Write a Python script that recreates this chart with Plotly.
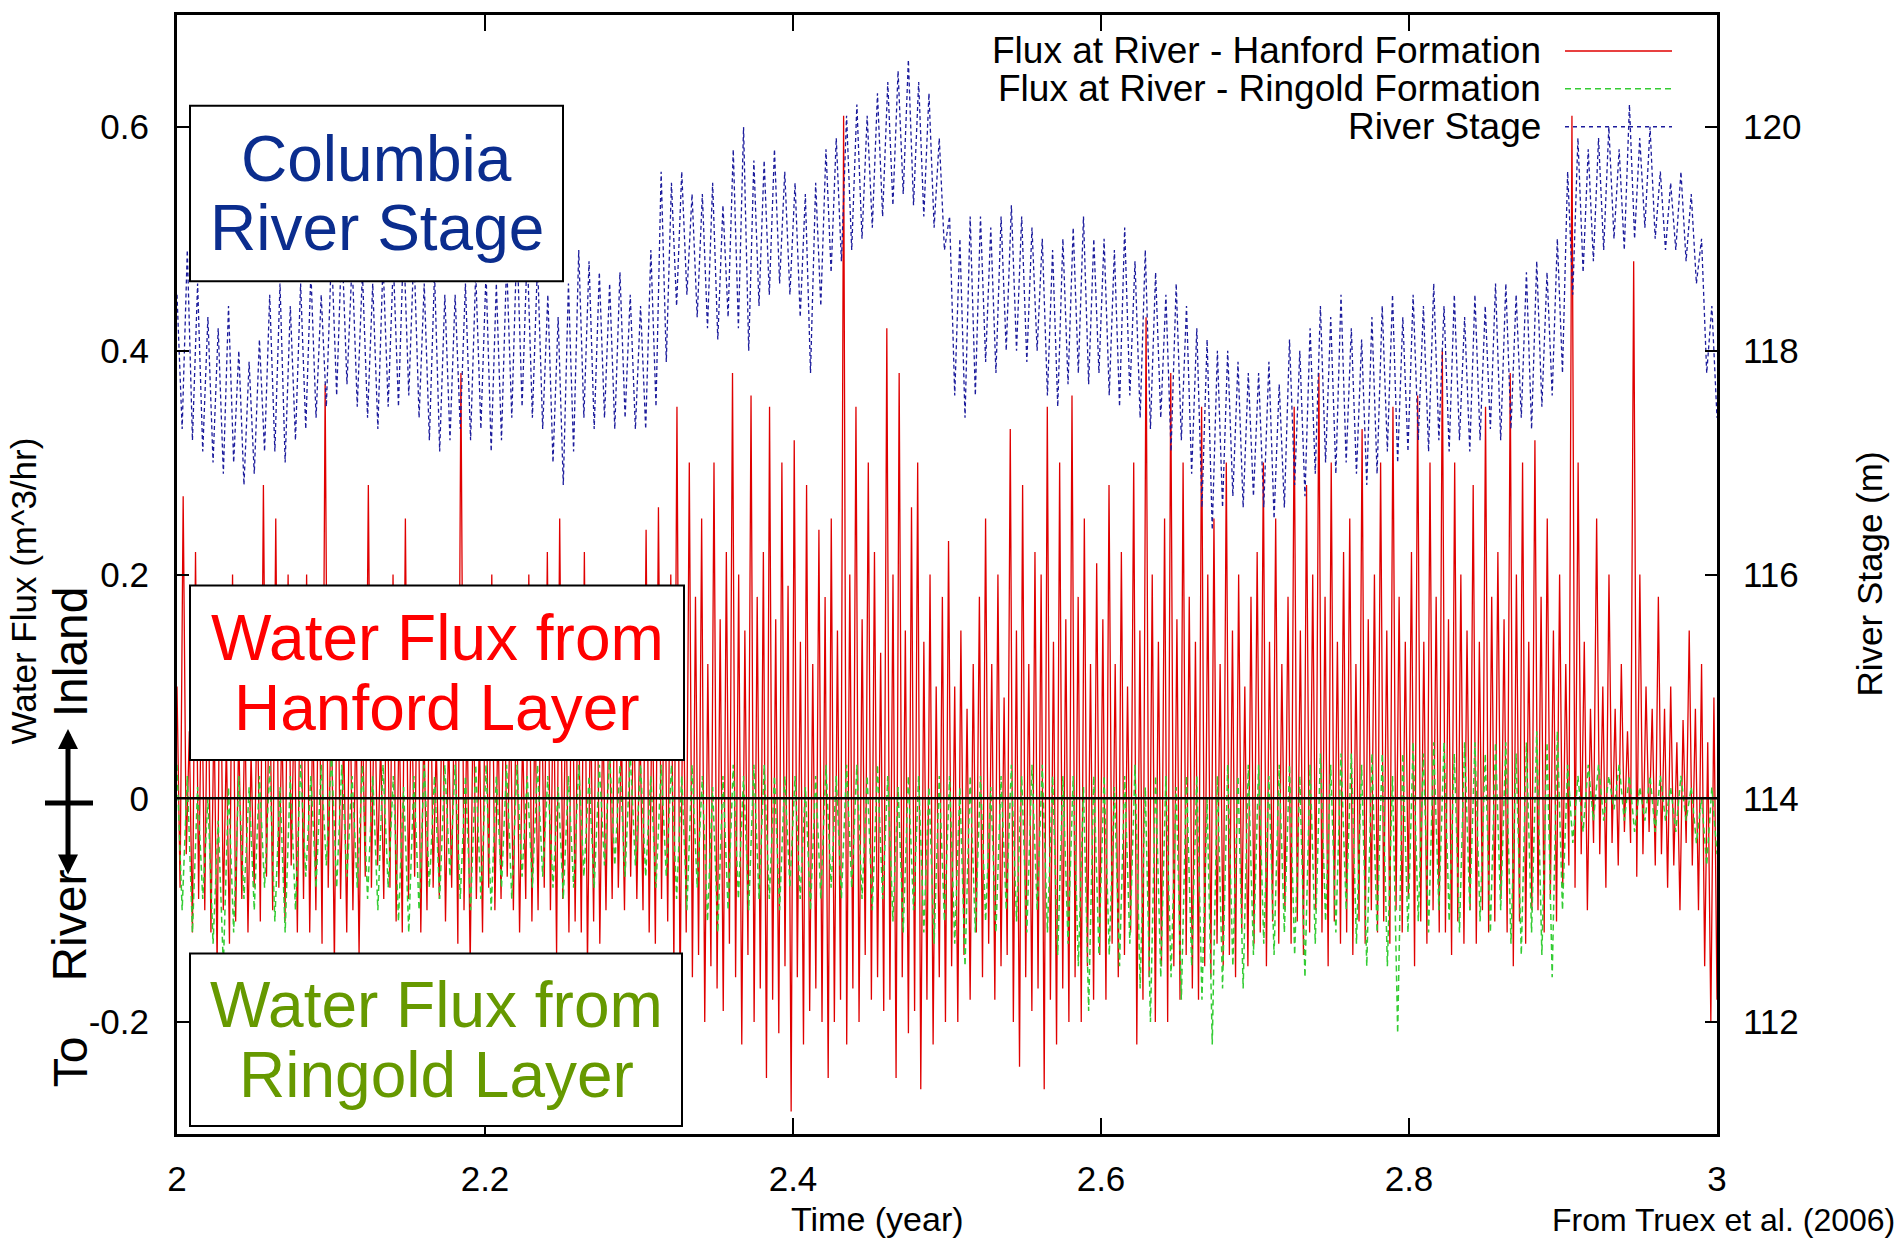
import numpy as np
import plotly.graph_objects as go

# ---------------- data ----------------
time_range = [2.0, 3.0]

# River stage (m), alternating daily highs / lows
river_stage_m = [
    118.5, 117.3, 118.9, 117.2, 118.6, 117.1,
    118.3, 117.0, 118.2, 116.9, 118.4, 117.0,
    118.0, 116.8, 117.9, 116.9, 118.1, 117.1,
    118.5, 117.1, 118.6, 117.0, 118.4, 117.2,
    118.6, 117.3, 118.7, 117.4, 118.5, 117.5,
    118.9, 117.6, 119.0, 117.7, 118.8, 117.5,
    118.7, 117.4, 118.6, 117.3, 118.8, 117.5,
    118.8, 117.5, 119.0, 117.6, 118.9, 117.4,
    118.6, 117.2, 118.7, 117.1, 118.5, 117.2,
    118.5, 117.3, 118.6, 117.2, 118.7, 117.3,
    118.7, 117.1, 118.6, 117.2, 118.8, 117.4,
    119.0, 117.5, 118.9, 117.4, 118.8, 117.3,
    118.5, 117.0, 118.3, 116.8, 118.6, 117.1,
    118.9, 117.4, 118.8, 117.3, 118.7, 117.4,
    118.6, 117.3, 118.7, 117.4, 118.5, 117.3,
    118.4, 117.3, 118.9, 117.5, 119.6, 117.9,
    119.5, 118.4, 119.6, 118.5, 119.4, 118.3,
    119.4, 118.2, 119.5, 118.1, 119.3, 118.3,
    119.8, 118.2, 120.0, 118.0, 119.7, 118.4,
    119.7, 118.5, 119.8, 118.6, 119.6, 118.5,
    119.5, 118.3, 119.4, 117.8, 119.5, 118.4,
    119.8, 118.7, 119.9, 118.8, 120.1, 118.9,
    120.2, 119.0, 120.1, 119.1, 120.3, 119.2,
    120.4, 119.3, 120.5, 119.4, 120.6, 119.3,
    120.4, 119.2, 120.3, 119.1, 119.9, 118.9,
    119.2, 117.6, 119.0, 117.4, 119.2, 117.6,
    119.2, 117.9, 119.1, 117.8, 119.2, 118.0,
    119.3, 118.0, 119.2, 117.9, 119.1, 118.0,
    119.0, 117.6, 118.9, 117.5, 119.0, 117.7,
    119.1, 117.8, 119.2, 117.7, 119.0, 117.8,
    119.0, 117.6, 118.9, 117.5, 119.1, 117.6,
    118.8, 117.4, 118.9, 117.3, 118.7, 117.4,
    118.5, 117.1, 118.6, 117.2, 118.4, 116.9,
    118.2, 116.6, 118.1, 116.4, 118.0, 116.6,
    118.0, 116.7, 117.9, 116.6, 117.8, 116.7,
    117.8, 116.6, 117.9, 116.5, 117.7, 116.6,
    118.1, 116.8, 118.0, 116.7, 118.2, 116.9,
    118.4, 117.0, 118.3, 116.9, 118.5, 117.0,
    118.2, 116.9, 118.1, 116.8, 118.3, 116.9,
    118.4, 117.1, 118.5, 117.0, 118.3, 117.1,
    118.5, 117.2, 118.4, 117.1, 118.6, 117.2,
    118.4, 117.1, 118.5, 117.2, 118.3, 117.1,
    118.5, 117.2, 118.4, 117.3, 118.6, 117.2,
    118.6, 117.3, 118.5, 117.4, 118.7, 117.3,
    118.8, 117.5, 118.7, 117.6, 119.0, 117.8,
    119.6, 118.5, 119.9, 118.7, 119.8, 118.8,
    119.9, 118.9, 120.0, 119.0, 119.8, 118.9,
    120.2, 119.0, 119.9, 119.1, 120.0, 119.0,
    119.6, 118.9, 119.5, 118.9, 119.6, 118.8,
    119.4, 118.6, 119.0, 117.8, 118.4, 117.4,
]

# Flux at river - Hanford formation (m^3/hr)
hanford_flux = [
    0.10, -0.08, 0.27, -0.05, 0.06, -0.12, 0.22, -0.09, 0.12, -0.10,
    0.15, -0.12, 0.08, -0.15, 0.18, -0.10, 0.05, -0.13, 0.20, -0.11,
    0.06, -0.09, 0.08, -0.12, 0.04, -0.08, 0.10, -0.11, 0.28, -0.07,
    0.12, -0.10, 0.25, -0.08, 0.07, -0.11, 0.20, -0.06, 0.09, -0.12,
    0.14, -0.09, 0.20, -0.12, 0.08, -0.10, 0.16, -0.13, 0.37, -0.08,
    0.10, -0.15, 0.17, -0.09, 0.06, -0.12, 0.12, -0.10, 0.08, -0.14,
    0.09, -0.07, 0.28, -0.08, 0.11, -0.06, 0.05, -0.09, 0.14, -0.08,
    0.20, -0.11, 0.08, -0.12, 0.25, -0.09, 0.10, -0.07, 0.16, -0.12,
    0.07, -0.10, 0.17, -0.08, 0.05, -0.09, 0.12, -0.11, 0.06, -0.08,
    0.12, -0.13, 0.38, -0.10, 0.08, -0.15, 0.10, -0.09, 0.06, -0.12,
    0.15, -0.08, 0.20, -0.10, 0.07, -0.09, 0.13, -0.07, 0.09, -0.10,
    0.11, -0.12, 0.06, -0.09, 0.20, -0.11, 0.08, -0.10, 0.14, -0.08,
    0.22, -0.10, 0.12, -0.14, 0.25, -0.09, 0.10, -0.12, 0.18, -0.11,
    0.13, -0.12, 0.22, -0.15, 0.09, -0.11, 0.17, -0.13, 0.08, -0.10,
    0.10, -0.09, 0.15, -0.08, 0.06, -0.10, 0.12, -0.07, 0.09, -0.09,
    0.07, -0.10, 0.24, -0.12, 0.11, -0.13, 0.26, -0.09, 0.15, -0.11,
    0.20, -0.15, 0.35, -0.18, 0.14, -0.12, 0.30, -0.16, 0.18, -0.14,
    0.25, -0.20, 0.12, -0.15, 0.30, -0.17, 0.16, -0.19, 0.22, -0.13,
    0.38, -0.16, 0.20, -0.22, 0.15, -0.14, 0.36, -0.20, 0.18, -0.17,
    0.22, -0.25, 0.35, -0.18, 0.16, -0.21, 0.30, -0.15, 0.19, -0.28,
    0.32, -0.16, 0.14, -0.22, 0.28, -0.19, 0.12, -0.17, 0.24, -0.20,
    0.18, -0.25, 0.25, -0.20, 0.15, -0.18, 0.61, -0.22, 0.20, -0.17,
    0.35, -0.20, 0.16, -0.14, 0.30, -0.18, 0.22, -0.16, 0.13, -0.19,
    0.42, -0.18, 0.20, -0.25, 0.38, -0.16, 0.15, -0.21, 0.26, -0.19,
    0.30, -0.26, 0.14, -0.18, 0.20, -0.22, 0.10, -0.16, 0.18, -0.20,
    0.23, -0.15, 0.10, -0.20, 0.15, -0.14, 0.08, -0.18, 0.12, -0.12,
    0.18, -0.16, 0.25, -0.13, 0.12, -0.18, 0.20, -0.15, 0.09, -0.14,
    0.33, -0.20, 0.15, -0.24, 0.28, -0.16, 0.12, -0.19, 0.22, -0.17,
    0.20, -0.26, 0.35, -0.18, 0.14, -0.22, 0.30, -0.17, 0.16, -0.20,
    0.36, -0.16, 0.18, -0.20, 0.25, -0.15, 0.12, -0.18, 0.21, -0.14,
    0.16, -0.18, 0.28, -0.13, 0.12, -0.16, 0.22, -0.14, 0.10, -0.12,
    0.30, -0.22, 0.15, -0.18, 0.43, -0.16, 0.20, -0.20, 0.14, -0.15,
    0.25, -0.20, 0.38, -0.15, 0.16, -0.18, 0.30, -0.14, 0.18, -0.17,
    0.14, -0.18, 0.35, -0.15, 0.20, -0.16, 0.25, -0.13, 0.12, -0.15,
    0.30, -0.14, 0.15, -0.16, 0.20, -0.12, 0.10, -0.15, 0.18, -0.13,
    0.22, -0.12, 0.30, -0.15, 0.14, -0.11, 0.25, -0.13, 0.12, -0.10,
    0.18, -0.13, 0.35, -0.11, 0.15, -0.14, 0.28, -0.12, 0.20, -0.10,
    0.38, -0.12, 0.18, -0.15, 0.30, -0.11, 0.14, -0.13, 0.22, -0.12,
    0.25, -0.14, 0.12, -0.11, 0.33, -0.13, 0.16, -0.10, 0.20, -0.12,
    0.30, -0.11, 0.15, -0.13, 0.35, -0.10, 0.18, -0.12, 0.14, -0.09,
    0.22, -0.15, 0.36, -0.11, 0.14, -0.13, 0.30, -0.10, 0.18, -0.12,
    0.40, -0.12, 0.16, -0.14, 0.30, -0.11, 0.20, -0.13, 0.15, -0.10,
    0.28, -0.13, 0.14, -0.10, 0.35, -0.12, 0.18, -0.11, 0.22, -0.09,
    0.16, -0.12, 0.38, -0.15, 0.20, -0.11, 0.30, -0.13, 0.14, -0.10,
    0.32, -0.10, 0.18, -0.12, 0.25, -0.09, 0.15, -0.11, 0.20, -0.08,
    0.12, -0.06, 0.61, -0.08, 0.30, -0.05, 0.14, -0.10, 0.08, -0.04,
    0.25, -0.05, 0.10, -0.08, 0.20, -0.04, 0.08, -0.06, 0.12, -0.03,
    0.06, -0.04, 0.48, -0.07, 0.20, -0.05, 0.10, -0.03, 0.08, -0.06,
    0.18, -0.05, 0.08, -0.08, 0.10, -0.06, 0.05, -0.10, 0.07, -0.04,
    0.15, -0.06, 0.08, -0.10, 0.12, -0.15, 0.05, -0.20, 0.09, -0.18,
]

# Flux at river - Ringold formation (m^3/hr)
ringold_flux = [
    0.03, -0.10, 0.02, -0.12, 0.01, -0.09,
    0.00, -0.13, -0.02, -0.15, 0.01, -0.12,
    0.02, -0.09, 0.01, -0.10, 0.02, -0.08,
    0.03, -0.11, 0.01, -0.12, 0.02, -0.10,
    0.03, -0.07, 0.02, -0.08, 0.03, -0.06,
    0.04, -0.08, 0.03, -0.07, 0.02, -0.08,
    0.03, -0.09, 0.02, -0.10, 0.03, -0.08,
    0.02, -0.11, 0.01, -0.12, 0.02, -0.10,
    0.03, -0.08, 0.02, -0.09, 0.03, -0.07,
    0.03, -0.09, 0.02, -0.10, 0.03, -0.09,
    0.03, -0.10, 0.02, -0.08, 0.03, -0.09,
    0.03, -0.07, 0.02, -0.08, 0.03, -0.07,
    0.02, -0.08, 0.01, -0.09, 0.02, -0.08,
    0.03, -0.07, 0.02, -0.08, 0.03, -0.06,
    0.04, -0.06, 0.03, -0.07, 0.04, -0.06,
    0.03, -0.07, 0.02, -0.08, 0.03, -0.07,
    0.03, -0.09, 0.02, -0.10, 0.03, -0.08,
    0.02, -0.11, 0.01, -0.12, 0.02, -0.10,
    0.03, -0.09, 0.02, -0.10, 0.03, -0.09,
    0.03, -0.09, 0.02, -0.10, 0.02, -0.08,
    0.02, -0.09, 0.01, -0.10, 0.02, -0.09,
    0.03, -0.08, 0.02, -0.09, 0.03, -0.08,
    0.03, -0.09, 0.02, -0.10, 0.03, -0.09,
    0.02, -0.11, 0.01, -0.12, 0.02, -0.10,
    0.02, -0.12, 0.01, -0.13, 0.02, -0.11,
    0.02, -0.13, 0.01, -0.15, 0.02, -0.12,
    0.02, -0.11, 0.01, -0.12, 0.02, -0.10,
    0.03, -0.11, 0.02, -0.12, 0.03, -0.10,
    0.03, -0.12, 0.02, -0.14, 0.02, -0.13,
    0.02, -0.15, 0.01, -0.19, 0.02, -0.14,
    0.02, -0.14, 0.01, -0.15, 0.02, -0.13,
    0.03, -0.17, 0.01, -0.20, 0.02, -0.16,
    0.02, -0.16, 0.01, -0.18, 0.02, -0.15,
    0.02, -0.18, 0.00, -0.22, 0.02, -0.17,
    0.03, -0.15, 0.02, -0.17, 0.03, -0.14,
    0.03, -0.13, 0.02, -0.14, 0.03, -0.12,
    0.03, -0.14, 0.02, -0.16, 0.03, -0.13,
    0.04, -0.11, 0.03, -0.12, 0.04, -0.10,
    0.04, -0.13, 0.03, -0.15, 0.04, -0.12,
    0.04, -0.15, 0.02, -0.21, 0.04, -0.12,
    0.05, -0.11, 0.04, -0.12, 0.05, -0.10,
    0.05, -0.11, 0.04, -0.12, 0.05, -0.10,
    0.05, -0.11, 0.04, -0.12, 0.05, -0.10,
    0.05, -0.13, 0.04, -0.14, 0.05, -0.12,
    0.06, -0.14, 0.05, -0.16, 0.06, -0.10,
    0.03, -0.04, 0.02, -0.03, 0.03, -0.02,
    0.03, -0.02, 0.02, -0.01, 0.03, -0.02,
    0.02, -0.03, 0.01, -0.02, 0.02, -0.03,
    0.02, -0.02, 0.01, -0.03, 0.02, -0.02,
    0.01, -0.04, 0.00, -0.06, 0.01, -0.05,
]

x_tickvals = [2.0, 2.2, 2.4, 2.6, 2.8, 3.0]
x_ticktext = ["2", "2.2", "2.4", "2.6", "2.8", "3"]
y_tickvals = [-0.2, 0.0, 0.2, 0.4, 0.6]
y_ticktext = ["-0.2", "0", "0.2", "0.4", "0.6"]
y2_tickvals = [112, 114, 116, 118, 120]
y2_ticktext = ["112", "114", "116", "118", "120"]

legend_names = ["Flux at River - Hanford Formation",
                "Flux at River - Ringold Formation",
                "River Stage"]

# ---------------- figure ----------------
W, H = 1899, 1247
L, R, T, B = 177, 1717, 12, 1134
FONT = "Liberation Sans, Arial, Helvetica, sans-serif"

RED = "#e00000"
GREEN = "#33cc33"
BLUE = "#1c1c9c"


def px(xp):
    return (xp - L) / (R - L)


def py(yp):
    return (B - yp) / (B - T)


t_h = np.linspace(time_range[0], time_range[1], len(hanford_flux))
t_r = np.linspace(time_range[0], time_range[1], len(ringold_flux))
t_s = np.linspace(time_range[0], time_range[1], len(river_stage_m))

fig = go.Figure()
fig.add_trace(go.Scatter(x=t_h, y=hanford_flux, mode="lines", name=legend_names[0],
                         line=dict(color=RED, width=1.3)))
fig.add_trace(go.Scatter(x=t_r, y=ringold_flux, mode="lines", name=legend_names[1],
                         line=dict(color=GREEN, width=1.5, dash="6px,4px")))
fig.add_trace(go.Scatter(x=t_s, y=river_stage_m, mode="lines", name=legend_names[2],
                         yaxis="y2", line=dict(color=BLUE, width=1.3, dash="4px,3px")))

shapes = []
annotations = []

# zero line
shapes.append(dict(type="line", xref="paper", yref="y", x0=0, x1=1, y0=0, y1=0,
                   line=dict(color="black", width=2.5), layer="above"))

# text boxes
boxes = [
    (190, 103, 563, 279, ["Columbia", "River Stage"], "#0b2d8e"),
    (190, 584, 684, 759, ["Water Flux from", "Hanford Layer"], "#ff0000"),
    (190, 953, 682, 1126, ["Water Flux from", "Ringold Layer"], "#669900"),
]
for x0, y0, x1, y1, lines, col in boxes:
    shapes.append(dict(type="rect", xref="paper", yref="paper",
                       x0=px(x0), x1=px(x1), y0=py(y1), y1=py(y0),
                       line=dict(color="black", width=2), fillcolor="white", layer="above"))
    cx = (x0 + x1) / 2
    cy = (y0 + y1) / 2
    for k, txt in enumerate(lines):
        yy = cy - 35 + 70 * k
        annotations.append(dict(text=txt, xref="paper", yref="paper", x=px(cx), y=py(yy),
                                xanchor="center", yanchor="middle", showarrow=False,
                                font=dict(family=FONT, size=64, color=col)))

# legend (text right, sample to the right)
leg_rows = [48, 86, 124]
leg_styles = [(RED, "solid", 1.5), (GREEN, "6px,4px", 1.5), (BLUE, "4px,4px", 1.5)]
for name, yy, (col, dash, wd) in zip(legend_names, leg_rows, leg_styles):
    annotations.append(dict(text=name, xref="paper", yref="paper", x=px(1543), y=py(yy),
                            xanchor="right", yanchor="middle", showarrow=False,
                            font=dict(family=FONT, size=37, color="black")))
    shapes.append(dict(type="line", xref="paper", yref="paper",
                       x0=px(1565), x1=px(1672), y0=py(yy), y1=py(yy),
                       line=dict(color=col, width=wd, dash=dash), layer="above"))

# axis titles / notes
annotations.append(dict(text="Time (year)", xref="paper", yref="paper", x=px(877), y=py(1219),
                        xanchor="center", yanchor="middle", showarrow=False,
                        font=dict(family=FONT, size=34, color="black")))
annotations.append(dict(text="From Truex et al. (2006)", xref="paper", yref="paper",
                        x=px(1897), y=py(1220), xanchor="right", yanchor="middle",
                        showarrow=False, font=dict(family=FONT, size=32, color="black")))
annotations.append(dict(text="Water Flux (m^3/hr)", xref="paper", yref="paper",
                        x=px(23), y=py(590), xanchor="center", yanchor="middle",
                        textangle=-90, showarrow=False,
                        font=dict(family=FONT, size=35, color="black")))
annotations.append(dict(text="River Stage (m)", xref="paper", yref="paper",
                        x=px(1869), y=py(573), xanchor="center", yanchor="middle",
                        textangle=-90, showarrow=False,
                        font=dict(family=FONT, size=35, color="black")))
annotations.append(dict(text="Inland", xref="paper", yref="paper",
                        x=px(70), y=py(651), xanchor="center", yanchor="middle",
                        textangle=-90, showarrow=False,
                        font=dict(family=FONT, size=48, color="black")))
annotations.append(dict(text="River", xref="paper", yref="paper",
                        x=px(70), y=py(925), xanchor="center", yanchor="middle",
                        textangle=-90, showarrow=False,
                        font=dict(family=FONT, size=48, color="black")))
annotations.append(dict(text="To", xref="paper", yref="paper",
                        x=px(70), y=py(1062), xanchor="center", yanchor="middle",
                        textangle=-90, showarrow=False,
                        font=dict(family=FONT, size=48, color="black")))
# double arrow
annotations.append(dict(text="", xref="paper", yref="paper", x=px(68), y=py(728),
                        ax=0, ay=147, showarrow=True, arrowhead=2, arrowside="end+start",
                        arrowsize=0.8, arrowwidth=5, arrowcolor="black", standoff=0,
                        startstandoff=0))
shapes.append(dict(type="line", xref="paper", yref="paper", x0=px(45), x1=px(93),
                   y0=py(802), y1=py(802), line=dict(color="black", width=5)))

tickfont = dict(family=FONT, size=35, color="black")
fig.update_layout(
    width=W, height=H,
    margin=dict(l=L, r=W - R, t=T, b=H - B, pad=0),
    paper_bgcolor="white", plot_bgcolor="white",
    showlegend=False,
    shapes=shapes, annotations=annotations,
    xaxis=dict(range=time_range, tickvals=x_tickvals, ticktext=x_ticktext,
               ticks="inside", ticklen=16, tickwidth=2, tickcolor="black",
               showline=True, linewidth=3, linecolor="black", mirror="ticks",
               showgrid=False, zeroline=False, tickfont=tickfont, ticklabelstandoff=12),
    yaxis=dict(range=[-0.3, 0.7], tickvals=y_tickvals, ticktext=y_ticktext,
               ticks="inside", ticklen=12, tickwidth=2, tickcolor="black",
               showline=True, linewidth=3, linecolor="black", mirror=True,
               showgrid=False, zeroline=False, tickfont=tickfont, ticklabelstandoff=18),
    yaxis2=dict(range=[111, 121], tickvals=y2_tickvals, ticktext=y2_ticktext,
                overlaying="y", side="right",
                ticks="inside", ticklen=12, tickwidth=2, tickcolor="black",
                showline=True, linewidth=3, linecolor="black",
                showgrid=False, zeroline=False, tickfont=tickfont, ticklabelstandoff=16),
)

fig.write_html("out.html", config={"displayModeBar": False},
               post_script="document.body.style.margin='0px';document.body.style.overflow='hidden';")
